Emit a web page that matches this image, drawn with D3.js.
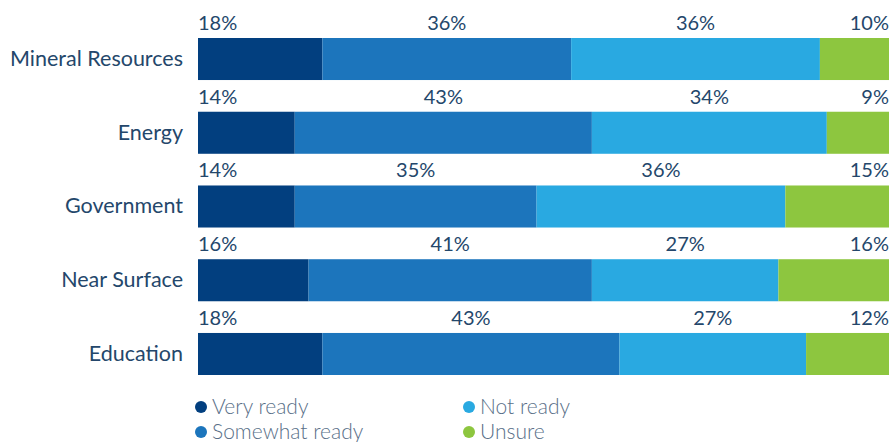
<!DOCTYPE html>
<html>
<head>
<meta charset="utf-8">
<script src="https://cdn.jsdelivr.net/npm/d3@7"></script>
<style>
  html, body { margin: 0; padding: 0; background: #fff; }
  svg { display: block; font-family: Lato, "Open Sans", sans-serif; }
</style>
</head>
<body>
<svg id="chart" width="889" height="442"></svg>
<script>
const categories = ['Mineral Resources', 'Energy', 'Government', 'Near Surface', 'Education'];
const seriesNames = ['Very ready', 'Somewhat ready', 'Not ready', 'Unsure'];
const veryReady = [18, 14, 14, 16, 18];
const somewhatReady = [36, 43, 35, 41, 43];
const notReady = [36, 34, 36, 27, 27];
const unsure = [10, 9, 15, 16, 12];
const colors = ['#023f7f', '#1c75bc', '#29a9e1', '#8dc63f'];

const width = 889;
const labelColor = '#24476b';
const legendColor = '#596f88';

const svg = d3.select('#chart');

const rows = categories.map((name, i) => ({
  name,
  'Very ready': veryReady[i],
  'Somewhat ready': somewhatReady[i],
  'Not ready': notReady[i],
  'Unsure': unsure[i],
}));

const stacked = d3.stack().keys(seriesNames)(rows);

const x = d3.scaleLinear().domain([0, 100]).range([198, width]);
const y = d3.scaleBand().domain(categories).range([38, 375]).paddingInner(0.43).paddingOuter(0);
const color = d3.scaleOrdinal().domain(seriesNames).range(colors);

// segments
const layers = svg.append('g')
  .selectAll('g')
  .data(stacked)
  .join('g')
  .attr('fill', (s) => color(s.key));

layers.selectAll('rect')
  .data((s) => s)
  .join('rect')
  .attr('x', (d) => x(d[0]))
  .attr('y', (d) => y(d.data.name))
  .attr('width', (d) => x(d[1]) - x(d[0]))
  .attr('height', y.bandwidth());

// value labels above each segment: first left aligned, last right aligned, rest centred
const last = seriesNames.length - 1;
stacked.forEach((s, k) => {
  svg.append('g')
    .selectAll('text')
    .data(s)
    .join('text')
    .attr('x', (d) => (k === 0 ? x(d[0]) : k === last ? x(d[1]) : (x(d[0]) + x(d[1])) / 2))
    .attr('y', (d) => y(d.data.name) - 8)
    .attr('text-anchor', k === 0 ? 'start' : k === last ? 'end' : 'middle')
    .attr('font-size', 20)
    .attr('fill', labelColor)
    .text((d) => `${d[1] - d[0]}%`);
});

// category axis
const yAxis = svg.append('g')
  .attr('transform', `translate(${x(0)},0)`)
  .call(d3.axisLeft(y).tickSize(0).tickPadding(15));
yAxis.select('.domain').remove();
yAxis.selectAll('text')
  .attr('font-size', 21.5)
  .attr('font-family', 'Lato, "Open Sans", sans-serif')
  .attr('fill', labelColor);

// legend, two columns
const legend = svg.append('g')
  .selectAll('g')
  .data(seriesNames)
  .join('g')
  .attr('transform', (d, i) => `translate(${i < 2 ? 201 : 469},${407 + (i % 2) * 25})`);

legend.append('circle')
  .attr('r', 6)
  .attr('fill', (d) => color(d));

legend.append('text')
  .attr('x', 11)
  .attr('y', 7)
  .attr('font-size', 21)
  .attr('font-weight', 300)
  .attr('fill', legendColor)
  .text((d) => d);
</script>
</body>
</html>
